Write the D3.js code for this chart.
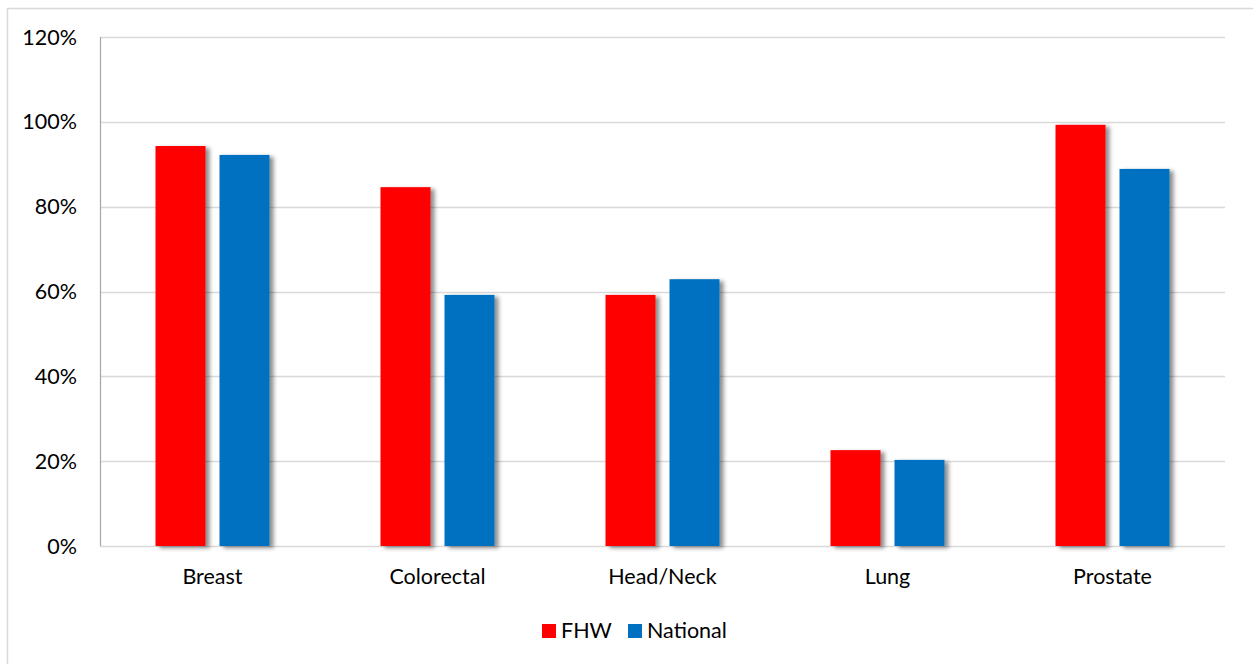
<!DOCTYPE html>
<html><head><meta charset="utf-8">
<script src="https://cdn.jsdelivr.net/npm/d3@7"></script>
<style>body{margin:0;background:#fff;}svg{display:block;}</style>
</head><body>
<svg id="c" width="1253" height="664"></svg>
<script>
const categories = ["Breast","Colorectal","Head/Neck","Lung","Prostate"];
const seriesNames = ["FHW","National"];
const fhwValues = [0.943, 0.846, 0.592, 0.226, 0.993];
const nationalValues = [0.922, 0.592, 0.629, 0.203, 0.889];
const yTicks = [0, 0.2, 0.4, 0.6, 0.8, 1.0, 1.2];
const colors = ["#FF0000", "#0070C0"];

const svg = d3.select("#c");
const font = "Lato, 'Open Sans', sans-serif";
const fs = 21.5;
const m = {left:100, right:1225, top:37, bottom:546};

// outer border
svg.append("rect").attr("x",7.5).attr("y",8.5).attr("width",1260).attr("height",670)
  .attr("fill","#fff").attr("stroke","#d9d9d9").attr("stroke-width",1.5);

const defs = svg.append("defs");
const f = defs.append("filter").attr("id","sh").attr("x","-20%").attr("y","-10%").attr("width","160%").attr("height","130%");
f.append("feDropShadow").attr("dx",4).attr("dy",2).attr("stdDeviation",2.2).attr("flood-color","#000").attr("flood-opacity",0.45);

const x = d3.scaleBand().domain(categories).range([m.left, m.right]);
const y = d3.scaleLinear().domain([0,1.2]).range([m.bottom, m.top]);

// gridlines
svg.append("g").selectAll("line").data(yTicks).join("line")
  .attr("x1",m.left).attr("x2",m.right)
  .attr("y1",d=>Math.round(y(d))+0.5).attr("y2",d=>Math.round(y(d))+0.5)
  .attr("stroke","#d9d9d9").attr("stroke-width",1.5);

// y labels
svg.append("g").selectAll("text").data(yTicks).join("text")
  .attr("x",77).attr("y",d=>y(d)).attr("dy","0.35em")
  .attr("text-anchor","end").attr("font-family",font).attr("font-size",fs).attr("fill","#000")
  .text(d=>d3.format(".0%")(d));

// left axis line
svg.append("line").attr("x1",m.left+0.5).attr("x2",m.left+0.5).attr("y1",m.top).attr("y2",m.bottom)
  .attr("stroke","#a6a6a6").attr("stroke-width",1.2);

const data = categories.map((c,i)=>({cat:c, vals:[fhwValues[i], nationalValues[i]]}));
const barW = 50, gap = 14;
const g = svg.append("g").attr("filter","url(#sh)");
data.forEach(d=>{
  const cx = x(d.cat) + x.bandwidth()/2;
  d.vals.forEach((v,j)=>{
    const x0 = j===0 ? cx - gap/2 - barW : cx + gap/2;
    g.append("rect").attr("x",x0).attr("width",barW)
      .attr("y",y(v)).attr("height",y(0)-y(v)).attr("fill",colors[j]);
  });
});

// x labels
svg.append("g").selectAll("text").data(categories).join("text")
  .attr("x",d=>x(d)+x.bandwidth()/2).attr("y",584)
  .attr("text-anchor","middle").attr("font-family",font).attr("font-size",fs).attr("fill","#000")
  .text(d=>d);

// legend
const leg = [{name:seriesNames[0], x:542},{name:seriesNames[1], x:628}];
leg.forEach((l,i)=>{
  svg.append("rect").attr("x",l.x).attr("y",624).attr("width",14).attr("height",14).attr("fill",colors[i]);
  svg.append("text").attr("x",l.x+19).attr("y",638).attr("font-family",font).attr("font-size",fs).attr("fill","#000").text(l.name);
});
</script>
</body></html>
